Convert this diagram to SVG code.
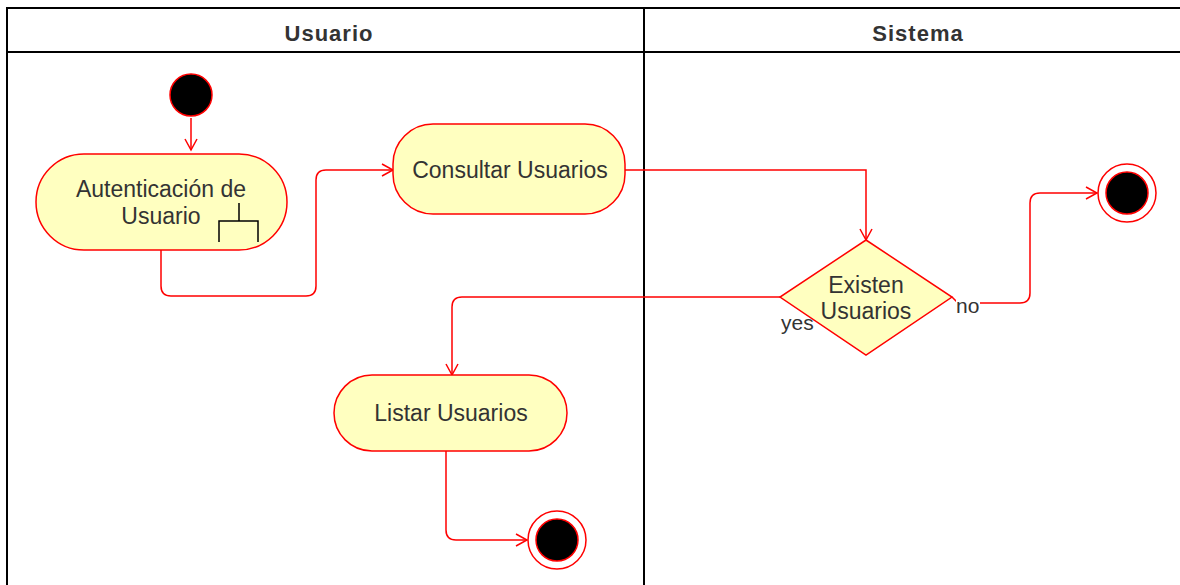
<svg xmlns="http://www.w3.org/2000/svg" width="1180" height="585" viewBox="0 0 1180 585">
<defs>
<style>
.lane{fill:none;stroke:#000;stroke-width:2}
.hdr{font-family:"Liberation Sans",Arial,sans-serif;font-size:22px;font-weight:bold;fill:#333;text-anchor:middle;letter-spacing:1px}
.act{fill:#ffffc0;stroke:#ff0000;stroke-width:1.5}
.txt{font-family:"Liberation Sans",Arial,sans-serif;font-size:23px;fill:#333;text-anchor:middle}
.lbl{font-family:"Liberation Sans",Arial,sans-serif;font-size:21px;fill:#333}
.edge{fill:none;stroke:#ff0000;stroke-width:1.5}
.startc{fill:#000;stroke:#ff0000;stroke-width:1.5}
.endo{fill:none;stroke:#ff0000;stroke-width:1.5}
</style>
<marker id="arr" markerWidth="14" markerHeight="14" refX="12" refY="7" orient="auto" markerUnits="userSpaceOnUse">
<path d="M1,1 L12,7 L1,13" fill="none" stroke="#ff0000" stroke-width="1.5"/>
</marker>
</defs>
<rect width="1180" height="585" fill="#fff"/>
<g id="lanes">
<path class="lane" d="M7,600 V8 H1190 M7,52 H1190 M644,8 V600"/>
<text class="hdr" x="329" y="41">Usuario</text>
<text class="hdr" x="918" y="41">Sistema</text>
</g>
<g id="connectors">
<path class="edge" d="M191,118 V150" marker-end="url(#arr)"/>
<path class="edge" d="M161,250 V286 Q161,296 171,296 H306 Q316,296 316,286 V180 Q316,170 326,170 H393" marker-end="url(#arr)"/>
<path class="edge" d="M625,170 H866 V240" marker-end="url(#arr)"/>
<path class="edge" d="M952,297 L958,303 H1020 Q1030,303 1030,293 V203 Q1030,193 1040,193 H1097" marker-end="url(#arr)"/>
<path class="edge" d="M780,297 H462 Q452,297 452,307 V375" marker-end="url(#arr)"/>
<path class="edge" d="M446,451 V530 Q446,540 456,540 H527" marker-end="url(#arr)"/>
</g>
<g id="start">
<circle class="startc" cx="191" cy="95" r="21"/>
</g>
<g id="autenticacion">
<rect class="act" x="36" y="154" width="251" height="96" rx="48" ry="48"/>
<text class="txt" x="161" y="197">Autenticación de</text>
<text class="txt" x="161" y="224">Usuario</text>
<path d="M239,203 V221 M219,242 V221 H258 V242" fill="none" stroke="#000" stroke-width="1.5"/>
</g>
<g id="consultar">
<rect class="act" x="393" y="124" width="232" height="90" rx="40" ry="40"/>
<text class="txt" x="510" y="178">Consultar Usuarios</text>
</g>
<g id="decision">
<polygon class="act" points="866,240 952,297 866,355 780,297"/>
<text class="txt" x="866" y="293">Existen</text>
<text class="txt" x="866" y="319">Usuarios</text>
</g>
<g id="listar">
<rect class="act" x="334" y="375" width="233" height="76" rx="38" ry="38"/>
<text class="txt" x="451" y="421">Listar Usuarios</text>
</g>
<g id="end1">
<circle class="endo" cx="1127" cy="193" r="29"/>
<circle class="startc" cx="1127" cy="193" r="21"/>
</g>
<g id="end2">
<circle class="endo" cx="557" cy="540" r="29"/>
<circle class="startc" cx="557" cy="540" r="21"/>
</g>
<g id="labels">
<rect x="956" y="297" width="24" height="17" fill="#fff"/>
<text class="lbl" x="956" y="313">no</text>
<text class="lbl" x="781" y="330">yes</text>
</g>
</svg>
